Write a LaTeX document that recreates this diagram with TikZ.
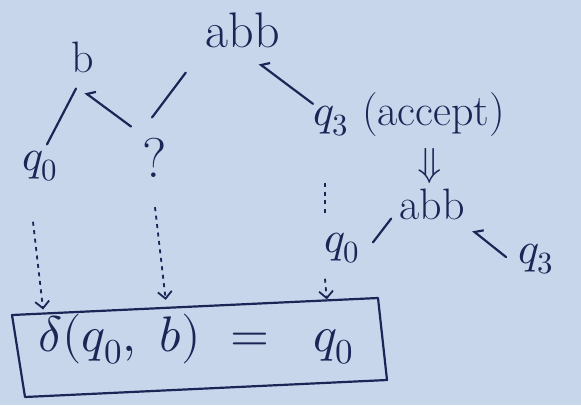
\documentclass[tikz,border=0pt]{standalone}
\usepackage{fontspec}
\usepackage{unicode-math}
\setmathfont{Latin Modern Math}
\usetikzlibrary{arrows.meta,calc}
\definecolor{paper}{HTML}{C8D6EB}
\definecolor{ink}{HTML}{1C2656}
\begin{document}
\begin{tikzpicture}[x=1pt,y=-1pt,
  lbl/.style={text=ink, inner sep=0pt, anchor=base, font=\fontsize{44}{50}\selectfont},
  edgeline/.style={draw=ink, line width=2.2pt, line cap=round},
  hookline/.style={edgeline, -{Straight Barb[right, length=6pt, width=14pt, line width=2.2pt]}},
  dotline/.style={draw=ink, line width=1.8pt, dash pattern=on 4pt off 4.5pt},
  dotarrow/.style={dotline, -{Straight Barb[length=7pt, width=14pt, line width=1.8pt]}},
]
\fill[paper] (0,0) rectangle (581,405);
\useasboundingbox (0,0) rectangle (581,405);

% labels
\node[lbl] (b) at (83,72) {b};
\node[lbl, font=\fontsize{50}{56}\selectfont] (abb) at (243,47) {abb};
\node[lbl] (q0a) at (40,170) {$q_0$};
\node[lbl, font=\fontsize{56}{60}\selectfont] (qm) at (155,177) {?};
\node[lbl, anchor=base west] (q3) at (313,125) {$q_3$ (accept)};
\node[lbl, font=\fontsize{40}{42}\selectfont] (dn) at (430,176) {$\Downarrow$};
\node[lbl] (abbb) at (432,219) {abb};
\node[lbl] (q0b) at (342,252) {$q_0$};
\node[lbl] (q3b) at (536,263) {$q_3$};
\node[lbl, font=\fontsize{50}{56}\selectfont] (eq) at (196,351) {$\delta(q_0,\ b)\ =\ \ q_0$};

% box (hand-drawn parallelogram)
\coordinate (c1) at (12,315);
\coordinate (c2) at (378,298);
\coordinate (c3) at (387,380);
\coordinate (c4) at (25,397);
\draw[ink, line width=2.2pt, line join=round] (c1) -- (c2) -- (c3) -- (c4) -- cycle;

% tree edges
\draw[edgeline] ($(b.south)+(-7,16)$) -- ($(q0a.north)+(7,-6)$);
\draw[hookline] ($(qm.north)+(-24,-11)$) -- ($(b.south)+(2,20)$);
\draw[edgeline] ($(abb.south west)+(-20,25)$) -- ($(qm.north)+(-3,-20)$);
\draw[hookline] ($(q3.north west)+(0,12)$) -- ($(abb.south east)+(-21,16)$);
\draw[edgeline] ($(abbb.south west)+(-8,-1)$) -- ($(q0b.north east)+(13,10)$);
\draw[hookline] ($(q3b.west)+(-12,-2)$) -- ($(abbb.south east)+(8,11)$);

% dotted connectors
\coordinate (dtop) at (325,183);
\draw[dotline] (dtop) -- ($(q0b.north)+(-17,-16)$);
\draw[dotarrow] ($(q0a.south)+(-7,40)$) -- ($(c1)!0.085!(c2)+(0,-4)$);
\draw[dotarrow] ($(qm.south)+(0,30)$) -- ($(c1)!0.42!(c2)+(0,-8)$);
\draw[dotarrow] ($(q0b.south)+(-17,15)$) -- ($(c1)!0.86!(c2)+(0,-1)$);
\end{tikzpicture}
\end{document}
